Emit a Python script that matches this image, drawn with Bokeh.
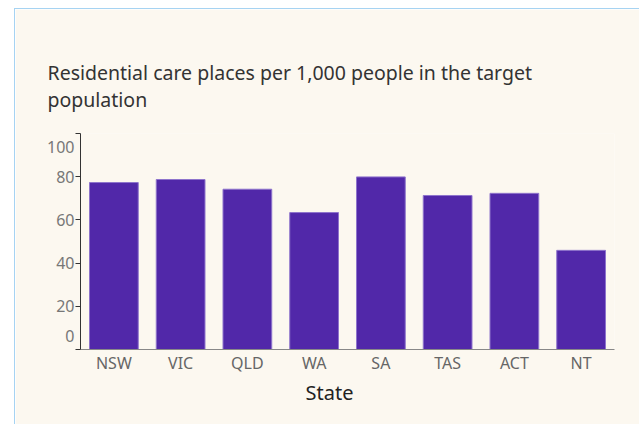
from bokeh.plotting import figure
from bokeh.models import Title, FixedTicker, FactorRange, Range1d
from bokeh.embed import file_html
from bokeh.resources import INLINE

states = ["NSW", "VIC", "QLD", "WA", "SA", "TAS", "ACT", "NT"]
places = [77.3, 78.7, 74.2, 63.4, 79.9, 71.3, 72.3, 45.9]
y_ticks = [0, 20, 40, 60, 80, 100]
title_text = "Residential care places per 1,000 people in the target\npopulation"
x_title = "State"

BG = "#fcf8f0"
BAR = "#5128a9"
FONT = "Noto Sans"

p = figure(x_range=FactorRange(*states, range_padding=0), y_range=Range1d(0, 100),
           width=625, height=416, output_backend="svg", toolbar_location=None,
           min_border_left=65, min_border_right=26, min_border_top=124, min_border_bottom=76,
           background_fill_color=BG, border_fill_color=BG, outline_line_color=None,
           styles={"border-left": "1px solid #a6d3f2", "border-top": "1px solid #a6d3f2",
                   "transform": "translate(14px, 8px)"})

p.vbar(x=states, top=places, width=0.73, fill_color=BAR, line_color="#8e74cc", line_width=1)

p.grid.visible = False

# y axis: end labels kept inside the axis extent
ya = p.yaxis[0]
ya.ticker = FixedTicker(ticks=y_ticks)
ya.axis_line_color = "#333333"
ya.major_tick_line_color = "#333333"
ya.major_tick_out = 5
ya.major_tick_in = 0
ya.minor_tick_line_color = None
ya.major_label_text_font = FONT
ya.major_label_text_font_size = "16px"
ya.major_label_text_color = "#777777"
ya.major_label_standoff = 1
ya.major_label_overrides = {y_ticks[0]: f"{y_ticks[0]}\n", y_ticks[-1]: f"\n{y_ticks[-1]}"}

# x axis
xa = p.xaxis[0]
xa.axis_line_color = "#888888"
xa.major_tick_line_color = None
xa.minor_tick_line_color = None
xa.major_label_text_font = FONT
xa.major_label_text_font_size = "16px"
xa.major_label_text_color = "#666666"
xa.major_label_standoff = -4

p.add_layout(Title(text=x_title, align="left", offset=225, text_font=FONT,
                   text_font_size="20px", text_font_style="normal", text_color="#222222",
                   standoff=0), "below")

p.add_layout(Title(text=title_text, align="left", offset=-33, text_font=FONT,
                   text_font_size="19.5px", text_font_style="normal", text_color="#333333",
                   standoff=42), "above")

open("out.html", "w").write(file_html(p, INLINE))
